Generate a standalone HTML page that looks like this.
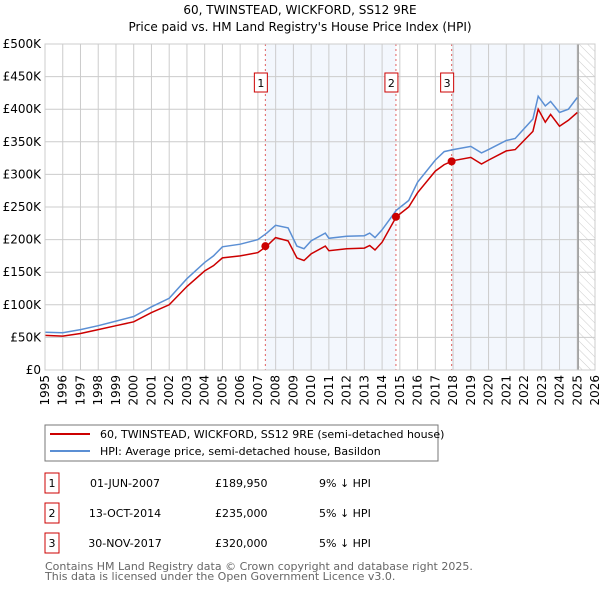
<!DOCTYPE html>
<html><head><meta charset="utf-8"><style>
body{margin:0;background:#fff;font-family:"DejaVu Sans","Liberation Sans",sans-serif;}
svg text{font-family:"DejaVu Sans","Liberation Sans",sans-serif;}
</style></head><body>
<svg id="c" width="600" height="590" xmlns="http://www.w3.org/2000/svg">
<defs><pattern id="hatch" width="6" height="6" patternUnits="userSpaceOnUse" patternTransform="rotate(-45)"><line x1="0" y1="0" x2="0" y2="6" stroke="#ccc" stroke-width="1"/></pattern></defs>
<text x="300" y="14" text-anchor="middle" font-size="12">60, TWINSTEAD, WICKFORD, SS12 9RE</text>
<text x="300" y="31" text-anchor="middle" font-size="12">Price paid vs. HM Land Registry's House Price Index (HPI)</text>
<g id="plot"></g>
<rect x="45" y="425" width="393" height="36" fill="#fff" stroke="#777"/>
<line x1="50" y1="434" x2="90" y2="434" stroke="#cc0000" stroke-width="2"/>
<text x="100" y="438" font-size="11">60, TWINSTEAD, WICKFORD, SS12 9RE (semi-detached house)</text>
<line x1="50" y1="451" x2="90" y2="451" stroke="#5b8fd4" stroke-width="2"/>
<text x="100" y="455" font-size="11">HPI: Average price, semi-detached house, Basildon</text>
<g id="tbl" font-size="11"></g>
<text x="45" y="570" font-size="11" fill="#666">Contains HM Land Registry data © Crown copyright and database right 2025.</text>
<text x="45" y="580" font-size="11" fill="#666">This data is licensed under the Open Government Licence v3.0.</text>
</svg>
<script>
const hpiYears=[1995,1996,1997,1998,1999,2000,2001,2002,2003,2004,2004.5,2005,2006,2007,2007.5,2008,2008.7,2009.2,2009.6,2010,2010.8,2011,2012,2013,2013.3,2013.6,2014,2014.8,2015.5,2016,2017,2017.5,2018,2019,2019.6,2020,2021,2021.5,2022,2022.5,2022.8,2023.2,2023.5,2024,2024.5,2025];
const hpiValues=[58,57,62,68,75,82,97,110,140,165,175,189,193,200,210,222,218,190,186,198,210,202,205,206,210,203,215,245,260,288,322,335,338,343,333,338,352,355,370,385,420,405,412,395,400,418];
const priceYears=hpiYears;
const priceValues=[53,52,56,62,68,74,88,100,128,152,160,172,175,180,190,203,198,172,168,178,190,183,186,187,191,184,196,235,250,272,305,315,321,326,316,322,336,338,352,366,400,380,392,374,383,395];
const saleYears=[2007.42,2014.78,2017.92];
const saleValues=[189.95,235,320];
const saleDates=["01-JUN-2007","13-OCT-2014","30-NOV-2017"];
const salePrices=["£189,950","£235,000","£320,000"];
const saleDiffs=["9% ↓ HPI","5% ↓ HPI","5% ↓ HPI"];
const yTicks=[0,50,100,150,200,250,300,350,400,450,500];
const yTickLabels=["£0","£50K","£100K","£150K","£200K","£250K","£300K","£350K","£400K","£450K","£500K"];
const xTicks=[1995,1996,1997,1998,1999,2000,2001,2002,2003,2004,2005,2006,2007,2008,2009,2010,2011,2012,2013,2014,2015,2016,2017,2018,2019,2020,2021,2022,2023,2024,2025,2026];
const X0=45,X1=595,Y0=370,Y1=44;
const xs=v=>X0+(v-1995)/31*(X1-X0);
const ys=v=>Y0-v/500*(Y0-Y1);
const NS="http://www.w3.org/2000/svg";
const plot=document.getElementById('plot');
function mk(t,a,p){const e=document.createElementNS(NS,t);for(const k in a)e.setAttribute(k,a[k]);(p||plot).appendChild(e);return e;}
let r;
r=mk('rect',{x:xs(saleYears[0]),y:Y1,width:xs(saleYears[1])-xs(saleYears[0]),height:Y0-Y1,fill:'#eef3fc',opacity:0.7});


r=mk('rect',{x:xs(saleYears[2]),y:Y1,width:xs(2025)-xs(saleYears[2]),height:Y0-Y1,fill:'#eef3fc',opacity:0.7});


r=mk('rect',{x:xs(2025.1),y:Y1,width:X1-xs(2025.1),height:Y0-Y1,fill:'url(#hatch)'});


yTicks.forEach((v,i)=>{
 let l=mk('line',{x1:X0,x2:X1,y1:ys(v),y2:ys(v),stroke:'#ccc'});
 
 
 let t=mk('text',{x:X0-4,y:ys(v)+4,'text-anchor':'end','font-size':12});
 
 
 t.textContent=yTickLabels[i];
});
xTicks.forEach(v=>{
 let l=mk('line',{x1:xs(v),x2:xs(v),y1:Y1,y2:Y0,stroke:'#ccc'});
 
 
 let t=mk('text',{transform:`translate(${xs(v)+4},${Y0+5}) rotate(-90)`,'text-anchor':'end','font-size':12});
 
 
 t.textContent=v;
});
r=mk('line',{x1:xs(2025.05),x2:xs(2025.05),y1:Y1,y2:Y0,stroke:'#999','stroke-width':1.5});


saleYears.forEach((v,i)=>{
 let l=mk('line',{x1:xs(v),x2:xs(v),y1:Y1,y2:Y0,stroke:'#e06060','stroke-dasharray':'2,3'});
 
 
 let b=mk('rect',{x:xs(v)-11,y:73,width:13,height:19,fill:'#fff',stroke:'#cc0000'});
 
 
 let t=mk('text',{x:xs(v)-4.5,y:87,'text-anchor':'middle','font-size':11});
 
 
 t.textContent=i+1;
});
function path(xa,va){return xa.map((x,i)=>(i?'L':'M')+xs(x).toFixed(1)+','+ys(va[i]).toFixed(1)).join('');}
r=mk('path',{d:path(hpiYears,hpiValues),fill:'none',stroke:'#5b8fd4','stroke-width':1.5});


r=mk('path',{d:path(priceYears,priceValues),fill:'none',stroke:'#cc0000','stroke-width':1.5});


saleYears.forEach((v,i)=>{
 let c=mk('circle',{cx:xs(v),cy:ys(saleValues[i]),r:4,fill:'#cc0000'});
 
 
});
r=mk('rect',{x:X0,y:Y1,width:X1-X0,height:Y0-Y1,fill:'none',stroke:'#ccc'});


const tbl=document.getElementById('tbl');
saleDates.forEach((d,i)=>{
 const y=483+i*30;
 let b=mk('rect',{x:45,y:y-10,width:14,height:20,fill:'#fff',stroke:'#cc0000'},tbl);
 
 
 const cells=[[52,String(i+1),'middle'],[125,d,'middle'],[215,salePrices[i],'start'],[319,saleDiffs[i],'start']];
 cells.forEach(c=>{
  let t=mk('text',{x:c[0],y:y+4,'text-anchor':c[2]},tbl);
  
  
  t.textContent=c[1];
 });
});
</script>
</body></html>
